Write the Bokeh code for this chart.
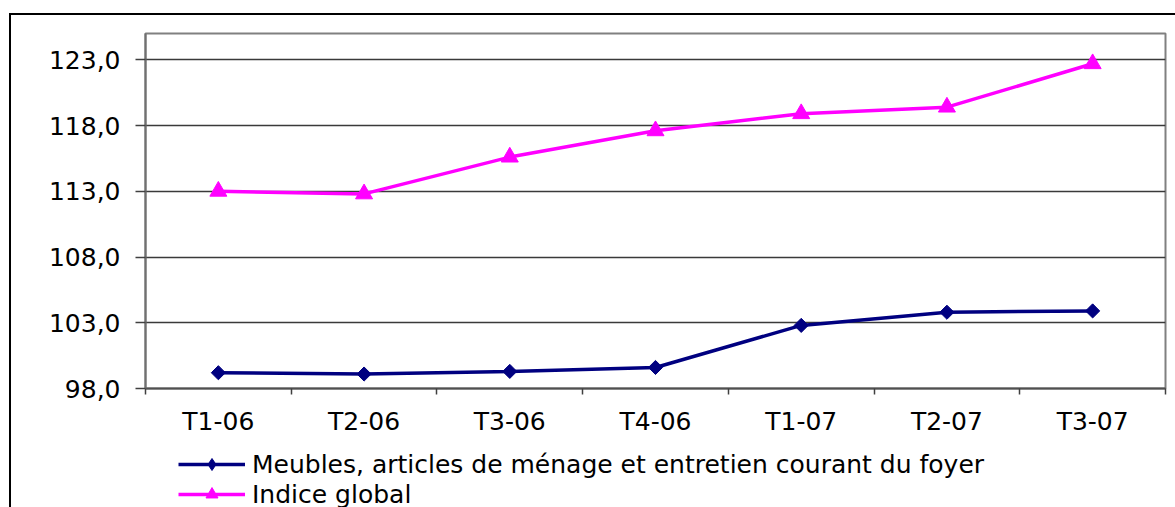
import numpy as np
from bokeh.plotting import figure
from bokeh.layouts import column
from bokeh.models import Range1d, FixedTicker, Legend, LegendItem
from bokeh.embed import file_html
from bokeh.resources import INLINE

quarters = ["T1-06", "T2-06", "T3-06", "T4-06", "T1-07", "T2-07", "T3-07"]
meubles = [99.2, 99.1, 99.3, 99.6, 102.8, 103.8, 103.9]
indice = [113.0, 112.8, 115.6, 117.6, 118.9, 119.4, 122.7]
y_ticks = [98, 103, 108, 113, 118, 123]
label_meubles = "Meubles, articles de ménage et entretien courant du foyer"
label_indice = "Indice global"

FONT = "DejaVu Sans"
FS = "25px"
BLUE = "#000080"
PINK = "#FF00FF"
xs = [i + 0.5 for i in range(len(quarters))]

p = figure(width=1164, height=430,
           x_range=Range1d(0, len(quarters)), y_range=Range1d(98, 125),
           output_backend="svg", toolbar_location=None,
           min_border_left=134, min_border_right=10,
           min_border_top=18, min_border_bottom=57)

p.background_fill_color = "white"
p.border_fill_color = "white"
p.outline_line_color = "#808080"
p.outline_line_width = 2

# x axis: labels at centres, ticks at boundaries
p.xaxis.ticker = FixedTicker(ticks=xs, minor_ticks=list(range(len(quarters) + 1)))
p.xaxis.major_label_overrides = {x: q for x, q in zip(xs, quarters)}
p.xaxis.major_tick_out = 0
p.xaxis.major_tick_in = 0
p.xaxis.minor_tick_out = 6
p.xaxis.minor_tick_in = 0
p.xaxis.minor_tick_line_color = "#404040"
p.xaxis.minor_tick_line_width = 1.5
p.xaxis.axis_line_color = "#505050"
p.xaxis.axis_line_width = 2
p.xaxis.major_label_standoff = 12
p.xaxis.major_label_text_font = FONT
p.xaxis.major_label_text_font_size = FS
p.xaxis.major_label_text_color = "black"
p.xgrid.visible = False

# y axis
p.yaxis.ticker = FixedTicker(ticks=y_ticks, minor_ticks=[])
p.yaxis.major_label_overrides = {t: f"{t:.1f}".replace(".", ",") for t in y_ticks}
p.yaxis.major_tick_out = 10
p.yaxis.major_tick_in = 0
p.yaxis.major_tick_line_color = "#404040"
p.yaxis.major_tick_line_width = 1.5
p.yaxis.axis_line_color = "#707070"
p.yaxis.axis_line_width = 2
p.yaxis.major_label_standoff = 15
p.yaxis.major_label_text_font = FONT
p.yaxis.major_label_text_font_size = FS
p.yaxis.major_label_text_color = "black"
p.ygrid.grid_line_color = "#3a3a3a"
p.ygrid.grid_line_width = 1.5

p.line(xs, meubles, line_color=BLUE, line_width=3.5)
p.scatter(xs, meubles, marker="square", angle=np.pi / 4, size=10,
          fill_color=BLUE, line_color=BLUE)
p.line(xs, indice, line_color=PINK, line_width=3.5)
p.scatter(xs, indice, marker="triangle", size=17,
          fill_color=PINK, line_color=PINK)

# legend strip below the chart
q = figure(width=1164, height=62, x_range=Range1d(0, 1), y_range=Range1d(0, 1),
           x_axis_type=None, y_axis_type=None,
           output_backend="svg", toolbar_location=None, min_border=0)
q.outline_line_color = None
q.background_fill_color = "white"
q.border_fill_color = "white"
ql1 = q.line(xs, meubles, line_color=BLUE, line_width=3.5)
qs1 = q.scatter(xs, meubles, marker="diamond", size=14,
                fill_color=BLUE, line_color=BLUE)
ql2 = q.line(xs, indice, line_color=PINK, line_width=3.5)
qs2 = q.scatter(xs, indice, marker="triangle", size=17,
                fill_color=PINK, line_color=PINK)
legend = Legend(items=[LegendItem(label=label_meubles, renderers=[ql1, qs1]),
                       LegendItem(label=label_indice, renderers=[ql2, qs2])],
                location=(33, -2), orientation="vertical",
                glyph_width=67, glyph_height=30, spacing=0, padding=0, margin=0,
                label_standoff=7, border_line_color=None,
                background_fill_alpha=0,
                label_text_font=FONT, label_text_font_size=FS,
                label_text_color="black")
q.add_layout(legend)

layout = column(p, q, spacing=0)
layout.styles = {"margin-left": "9px", "margin-top": "13px",
                 "border-top": "2px solid black", "border-left": "2px solid black"}

open("out.html", "w").write(file_html(layout, INLINE))
